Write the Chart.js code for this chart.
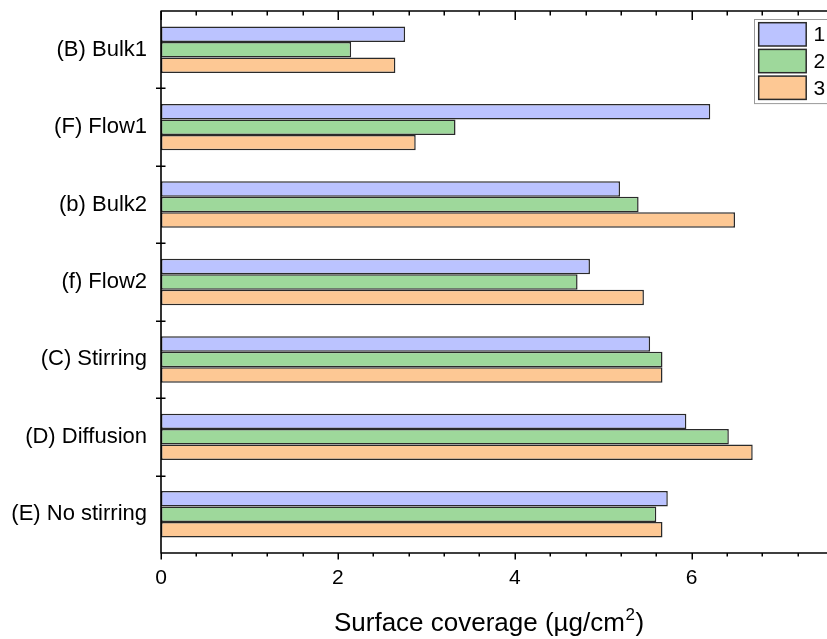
<!DOCTYPE html>
<html>
<head>
<meta charset="utf-8">
<script src="https://cdn.jsdelivr.net/npm/chart.js@4/dist/chart.umd.min.js"></script>
<style>
  html, body { margin: 0; padding: 0; background: #ffffff; }
  #wrap { width: 827px; height: 639px; }
</style>
</head>
<body>
<div id="wrap"><canvas id="chart" width="827" height="639"></canvas></div>
<script>
// Categories (top to bottom) and surface coverage per run, in µg/cm²
const categories = ['(B) Bulk1', '(F) Flow1', '(b) Bulk2', '(f) Flow2', '(C) Stirring', '(D) Diffusion', '(E) No stirring'];
const run1 = [2.76, 6.21, 5.19, 4.85, 5.53, 5.94, 5.73];
const run2 = [2.15, 3.33, 5.40, 4.71, 5.67, 6.42, 5.60];
const run3 = [2.65, 2.88, 6.49, 5.46, 5.67, 6.69, 5.67];
const runNames = ['1', '2', '3'];
const xMajorTicks = [0, 2, 4, 6];
const xMinorStep = 0.4;
const xMax = 7.53;
const axisTitle = ['Surface coverage (\u00B5g/cm', '2', ')'];

const fills = ['#BBC3FF', '#9ED89B', '#FDC894'];
const edge = '#2a2a2a';
const FONT = '"Liberation Sans", Arial, sans-serif';

Chart.defaults.font.family = FONT;
Chart.defaults.color = '#000';

// Axis frame, ticks, title and legend box
const framePlugin = {
  id: 'frame',
  afterDraw(chart) {
    const { ctx, chartArea: a, scales } = chart;
    const xs = scales.x, ys = scales.y;
    ctx.save();
    ctx.strokeStyle = '#000';
    ctx.lineWidth = 1.6;
    ctx.lineCap = 'butt';
    // spines: left, top, bottom
    ctx.beginPath();
    ctx.moveTo(a.left, a.top - 0.5); ctx.lineTo(a.left, a.bottom + 0.5);
    ctx.moveTo(a.left, a.top); ctx.lineTo(a.right, a.top);
    ctx.moveTo(a.left, a.bottom); ctx.lineTo(a.right, a.bottom);
    ctx.stroke();

    // x ticks: major / minor, outward at bottom, inward at top
    ctx.lineWidth = 1.5;
    ctx.beginPath();
    const n = Math.floor(xMax / xMinorStep + 1e-6);
    for (let i = 0; i <= n; i++) {
      const v = +(i * xMinorStep).toFixed(4);
      const px = Math.round(xs.getPixelForValue(v)) + 0.25;
      const major = xMajorTicks.some(t => Math.abs(t - v) < 1e-6);
      ctx.moveTo(px, a.bottom); ctx.lineTo(px, a.bottom + (major ? 6.5 : 3.5));
      ctx.moveTo(px, a.top); ctx.lineTo(px, a.top + (major ? 9 : 4.5));
    }
    // y ticks at category boundaries, crossing the left spine
    for (let i = 1; i < categories.length; i++) {
      const py = Math.round((ys.getPixelForValue(i - 1) + ys.getPixelForValue(i)) / 2) + 0.25;
      ctx.moveTo(a.left - 5, py); ctx.lineTo(a.left + 4.5, py);
    }
    ctx.stroke();

    // axis title with superscript
    ctx.fillStyle = '#000';
    ctx.textBaseline = 'alphabetic';
    const big = '26px ' + FONT, small = '17px ' + FONT;
    ctx.font = big;
    const w1 = ctx.measureText(axisTitle[0]).width;
    const w3 = ctx.measureText(axisTitle[2]).width;
    ctx.font = small;
    const w2 = ctx.measureText(axisTitle[1]).width;
    const total = w1 + w2 + w3 + 1;
    let tx = (a.left + a.right) / 2 - total / 2 - 5;
    const base = 631;
    ctx.font = big; ctx.fillText(axisTitle[0], tx, base); tx += w1 + 0.5;
    ctx.font = small; ctx.fillText(axisTitle[1], tx, base - 11); tx += w2 + 0.5;
    ctx.font = big; ctx.fillText(axisTitle[2], tx, base);

    // legend box
    const lx = 754.5, ly = 19.5, sw = 47.5, sh = 23.3, step = 26.7;
    ctx.fillStyle = '#fff';
    ctx.fillRect(lx, ly, 827 - lx + 2, 3 * step + 4);
    ctx.strokeStyle = '#9a9a9a';
    ctx.lineWidth = 1;
    ctx.strokeRect(lx, ly, 827 - lx + 2, 3 * step + 4);
    chart.data.datasets.forEach((ds, i) => {
      const sy = 22.7 + i * step;
      ctx.fillStyle = ds.backgroundColor;
      ctx.fillRect(758.7, sy, sw, sh);
      ctx.strokeStyle = edge;
      ctx.lineWidth = 1.5;
      ctx.strokeRect(758.7, sy, sw, sh);
      ctx.fillStyle = '#000';
      ctx.font = '21px ' + FONT;
      ctx.textBaseline = 'middle';
      ctx.fillText(ds.label, 813.5, sy + sh / 2 + 1);
    });
    ctx.restore();
  }
};

new Chart(document.getElementById('chart'), {
  type: 'bar',
  data: {
    labels: categories,
    datasets: [run1, run2, run3].map((vals, i) => ({
      label: runNames[i],
      data: vals,
      backgroundColor: fills[i],
      borderColor: edge,
      borderWidth: 1.5,
      borderSkipped: false,
      categoryPercentage: 0.6,
      barPercentage: 1.0
    }))
  },
  options: {
    indexAxis: 'y',
    responsive: false,
    animation: false,
    devicePixelRatio: 1,
    layout: { padding: { top: 11, left: 0, right: 0, bottom: 0 } },
    plugins: { legend: { display: false }, tooltip: { enabled: false } },
    scales: {
      x: {
        type: 'linear',
        min: 0,
        max: xMax,
        afterBuildTicks(scale) { scale.ticks = xMajorTicks.map(v => ({ value: v })); },
        afterFit(scale) { scale.height = 86; scale.paddingLeft = 0; scale.paddingRight = 0; },
        grid: { display: false, drawTicks: false },
        border: { display: false },
        ticks: { font: { size: 21 }, color: '#000', padding: 13, maxRotation: 0 }
      },
      y: {
        type: 'category',
        offset: true,
        afterFit(scale) { scale.width = 161; scale.paddingTop = 0; scale.paddingBottom = 0; },
        grid: { display: false, drawTicks: false, offset: true },
        border: { display: false },
        ticks: { font: { size: 22 }, color: '#000', padding: 14 }
      }
    }
  },
  plugins: [framePlugin]
});
</script>
</body>
</html>
